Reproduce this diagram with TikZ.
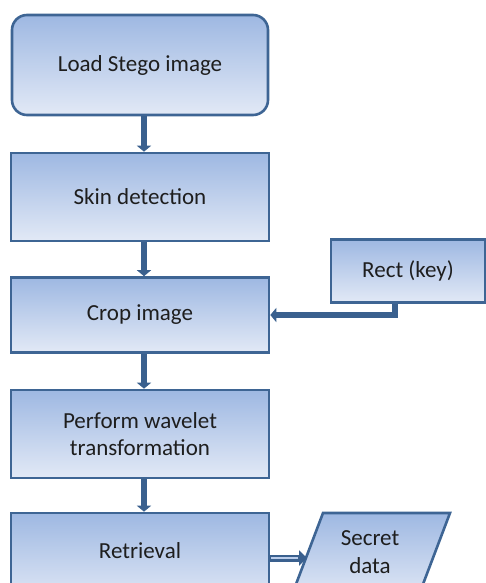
\documentclass[tikz,border=0pt]{standalone}
\usepackage{fontspec}
\setmainfont{Carlito}
\usetikzlibrary{arrows.meta}
\definecolor{edge}{RGB}{62,101,148}
\definecolor{flow}{RGB}{58,96,142}
\definecolor{topfill}{RGB}{158,184,226}
\definecolor{botfill}{RGB}{226,233,246}
\definecolor{ink}{RGB}{30,30,30}
\tikzset{
  label font/.style={font=\fontsize{23}{27}\selectfont},
  box/.style={draw=edge, line width=2.6pt, top color=topfill, bottom color=botfill,
    minimum width=258pt, text=ink, label font, align=center, inner sep=0pt},
  flowline/.style={draw=flow, line width=6.5pt,
    -{Triangle[width=14pt,length=6pt]}},
}
\begin{document}
\begin{tikzpicture}[x=1pt,y=-1pt]
\useasboundingbox (0,0) rectangle (486,583);
\clip (0,0) rectangle (486,583);
% main column
\node[box, rounded corners=15pt, minimum width=256pt, minimum height=100pt] (load) at (140,65) {Load Stego image};
\node[box, minimum height=88pt] (skin) at (140,197) {Skin detection};
\node[box, minimum height=75pt] (crop) at (140,315) {Crop image};
\node[box, minimum height=88pt] (wave) at (140,434) {Perform wavelet\\transformation};
\node[box, minimum height=90pt] (retr) at (140,558) {};
\node[text=ink, label font] (retrtxt) at (140,551) {Retrieval};
% key input
\node[box, minimum width=154pt, minimum height=63pt] (key) at (408,271) {Rect (key)};
% output parallelogram
\path[draw=edge, line width=2.6pt, top color=topfill, bottom color=botfill]
  (323,513) -- (450,513) -- (417,600) -- (290,600) -- cycle;
\node[text=ink, font=\fontsize{23}{28}\selectfont, align=center, inner sep=0pt] (secret) at (370,552) {Secret\\data};
\coordinate (secretin) at (307,558);
% connectors
\draw[flowline] ([xshift=4pt]load.south) -- ([xshift=4pt]skin.north);
\draw[flowline] ([xshift=4pt]skin.south) -- ([xshift=4pt]crop.north);
\draw[flowline] ([xshift=4pt]crop.south) -- ([xshift=4pt]wave.north);
\draw[flowline] ([xshift=4pt]wave.south) -- ([xshift=4pt]retr.north);
\draw[flowline] (key.south -| 395,0) |- (crop.east);
\draw[draw=flow, line width=7pt, -{Triangle[width=15pt,length=8pt]}] (retr.east |- secretin) -- (secretin);
\draw[draw=topfill!70!white, line width=1.2pt] ([xshift=1pt]retr.east |- secretin) -- ([xshift=-9pt]secretin);
\end{tikzpicture}
\end{document}
